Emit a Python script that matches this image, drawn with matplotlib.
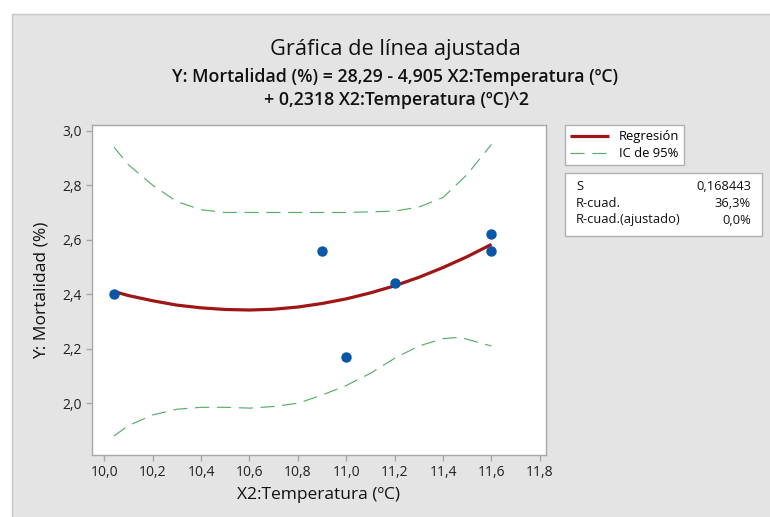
import matplotlib
matplotlib.use("Agg")
import matplotlib.pyplot as plt
from matplotlib.patches import Rectangle

plt.rcParams['font.family'] = ['Open Sans', 'DejaVu Sans']

# datos observados
temp = [10.04, 10.9, 11.0, 11.2, 11.6, 11.6]
mort = [2.40, 2.56, 2.17, 2.44, 2.62, 2.56]

# curva ajustada
fit_x = [10.04, 10.1, 10.2, 10.3, 10.4, 10.5, 10.6, 10.7, 10.8, 10.9,
         11.0, 11.1, 11.2, 11.3, 11.4, 11.5, 11.6]
fit_y = [2.410, 2.395, 2.376, 2.360, 2.350, 2.344, 2.342, 2.345, 2.353, 2.366,
         2.383, 2.405, 2.431, 2.462, 2.498, 2.538, 2.583]

# intervalo de confianza 95%
ic_sup_x = [10.04, 10.1, 10.2, 10.3, 10.4, 10.5, 10.6, 10.8, 11.0, 11.2,
            11.3, 11.4, 11.5, 11.6]
ic_sup_y = [2.94, 2.875, 2.80, 2.74, 2.71, 2.70, 2.70, 2.70, 2.70, 2.705,
            2.72, 2.755, 2.84, 2.95]
ic_inf_x = [10.04, 10.1, 10.2, 10.3, 10.4, 10.5, 10.6, 10.7, 10.8, 10.9,
            11.0, 11.1, 11.2, 11.3, 11.4, 11.47, 11.55, 11.6]
ic_inf_y = [1.88, 1.918, 1.957, 1.978, 1.985, 1.985, 1.982, 1.988, 2.00, 2.03,
            2.065, 2.11, 2.165, 2.21, 2.237, 2.242, 2.222, 2.21]

xticks = [10.0, 10.2, 10.4, 10.6, 10.8, 11.0, 11.2, 11.4, 11.6, 11.8]
yticks = [2.0, 2.2, 2.4, 2.6, 2.8, 3.0]

stats_lbl = ['S', 'R-cuad.', 'R-cuad.(ajustado)']
stats_val = ['0,168443', '36,3%', '0,0%']

W, H = 770, 517
fig = plt.figure(figsize=(W / 100, H / 100), dpi=100, facecolor='white')

# fondo gris tipo Minitab
fig.add_artist(Rectangle((12 / W, -0.01), 1.0, 1 - 14 / H + 0.01, transform=fig.transFigure,
                         facecolor='#e4e4e4', edgecolor='#c6c6c6', linewidth=1, zorder=-5))

ax = fig.add_axes([91.7 / W, 1 - 455 / H, (545.7 - 91.7) / W, (455 - 125) / H])
ax.set_facecolor('white')

rojo = '#9e1616'
verde = '#2f9a40'
azul = '#0a57a8'

ax.plot(ic_sup_x, ic_sup_y, color=verde, lw=0.85, ls=(0, (12, 6.5)), alpha=0.8, label='IC de 95%')
ax.plot(ic_inf_x, ic_inf_y, color=verde, lw=0.85, ls=(0, (12, 6.5)), alpha=0.8)
ax.plot(fit_x, fit_y, color=rojo, lw=2.3, label='Regresión', solid_capstyle='butt')
ax.plot(temp, mort, 'o', color=azul, ms=6.5, zorder=5)

ax.set_xlim(9.948, 11.824)
ax.set_ylim(1.81, 3.021)
ax.set_xticks(xticks)
ax.set_xticklabels([f'{v:.1f}'.replace('.', ',') for v in xticks])
ax.set_yticks(yticks)
ax.set_yticklabels([f'{v:.1f}'.replace('.', ',') for v in yticks])

for s in ax.spines.values():
    s.set_color('#a8a8a8')
    s.set_linewidth(1)
ax.tick_params(direction='out', length=4, width=1, color='#a8a8a8',
               labelsize=10, labelcolor='#222222', pad=3)

ax.set_xlabel('X2:Temperatura (ºC)', fontsize=12.5, color='#111111', labelpad=5)
ax.set_ylabel('Y: Mortalidad (%)', fontsize=12.5, color='#111111', labelpad=9)

# titulos
fig.text(395 / W, 1 - 50 / H, 'Gráfica de línea ajustada', ha='center', va='center',
         fontsize=15.7, color='#111111')
fig.text(395 / W, 1 - 77 / H, 'Y: Mortalidad (%) = 28,29 - 4,905 X2:Temperatura (ºC)',
         ha='center', va='center', fontsize=12.8, fontweight='semibold', color='#111111')
fig.text(397 / W, 1 - 100 / H, '+ 0,2318 X2:Temperatura (ºC)^2',
         ha='center', va='center', fontsize=12.8, fontweight='semibold', color='#111111')

# leyenda
h, l = ax.get_legend_handles_labels()
leg = ax.legend([h[1], h[0]], [l[1], l[0]], loc='upper left',
                bbox_to_anchor=(565 / W, 1 - 125 / H), bbox_transform=fig.transFigure,
                borderaxespad=0, fontsize=9.4, frameon=True, fancybox=False,
                edgecolor='#b0b0b0', framealpha=1, handlelength=3.0,
                handletextpad=0.7, labelspacing=0.3, borderpad=0.4)
leg.get_frame().set_linewidth(1)

# cuadro de estadisticos
fig.add_artist(Rectangle((565 / W, 1 - 236 / H), (761.7 - 565) / W, (236 - 173.3) / H,
                         transform=fig.transFigure, facecolor='white',
                         edgecolor='#b0b0b0', linewidth=1))
for i, (lbl, val) in enumerate(zip(stats_lbl, stats_val)):
    yy = 1 - (187 + i * 16.5) / H
    fig.text(576 / W, yy, lbl, ha='left', va='center', fontsize=9.3, color='#111111')
    fig.text(751 / W, yy, val, ha='right', va='center', fontsize=9.3, color='#111111')

fig.savefig('out.png', dpi=100, facecolor='white')
